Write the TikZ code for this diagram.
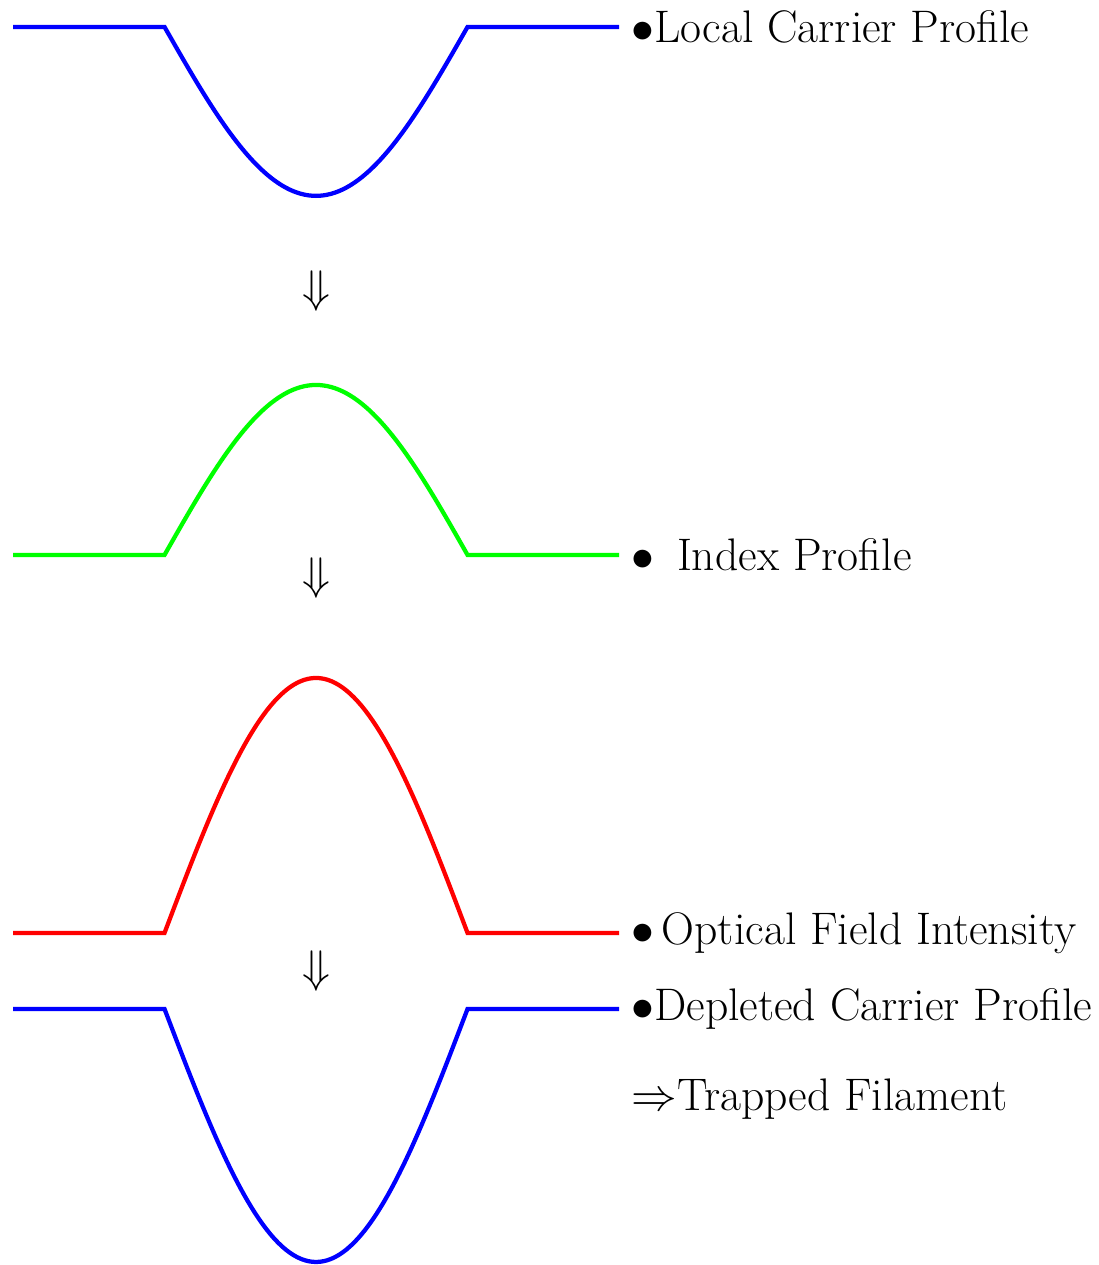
\documentclass[tikz,border=0pt]{standalone}
\usepackage{amsmath,amssymb}
\usepackage{xcolor}
\usepackage{tikz}
\usetikzlibrary{positioning}

\begin{document}
\begin{tikzpicture}[
    every node/.style={font=\LARGE, scale=0.496},
    profile/.style={thick, line join=miter},
    lbl/.style={anchor=west},
    stepdown/.style={inner sep=0pt}
  ]
  \useasboundingbox (-0.086,0) rectangle (7.162,-8.350);

  % carrier profile (dip)
  \draw[profile, blue] (0,-0.178) -- (1,-0.178)
    -- plot[domain=-1:1, samples=81] ({2+\x}, {-0.178-1.115*cos(90*\x)})
    -- (3,-0.178) -- (4,-0.178);
  \node[lbl] (carrier) at (4.02,-0.178) {$\bullet$Local Carrier Profile};

  \node[stepdown] (arrA) at (2,-1.924) {$\Downarrow$};

  % index profile (bump)
  \draw[profile, green] (0,-3.663) -- (1,-3.663)
    -- plot[domain=-1:1, samples=81] ({2+\x}, {-3.663+1.122*cos(90*\x)})
    -- (3,-3.663) -- (4,-3.663);
  \node[lbl] (index) at (4.02,-3.663) {$\bullet$\enspace Index Profile};

  \node[stepdown] (arrB) at (2,-3.815) {$\Downarrow$};

  % optical field
  \draw[profile, red] (0,-6.158) -- (1,-6.158)
    -- plot[domain=-1:1, samples=81] ({2+\x}, {-6.158+1.683*cos(90*\x)})
    -- (3,-6.158) -- (4,-6.158);
  \node[lbl] (field) at (4.02,-6.158) {$\bullet$\,Optical Field Intensity};

  \node[stepdown] (arrC) at (2,-6.413) {$\Downarrow$};

  % depleted carriers
  \draw[profile, blue] (0,-6.660) -- (1,-6.660)
    -- plot[domain=-1:1, samples=81] ({2+\x}, {-6.660-1.670*cos(90*\x)})
    -- (3,-6.660) -- (4,-6.660);
  \node[lbl] (depleted) at (4.02,-6.660) {$\bullet$Depleted Carrier Profile};

  \node[lbl] (trapped) at (4.02,-7.254) {$\Rightarrow$Trapped Filament};
\end{tikzpicture}
\end{document}
